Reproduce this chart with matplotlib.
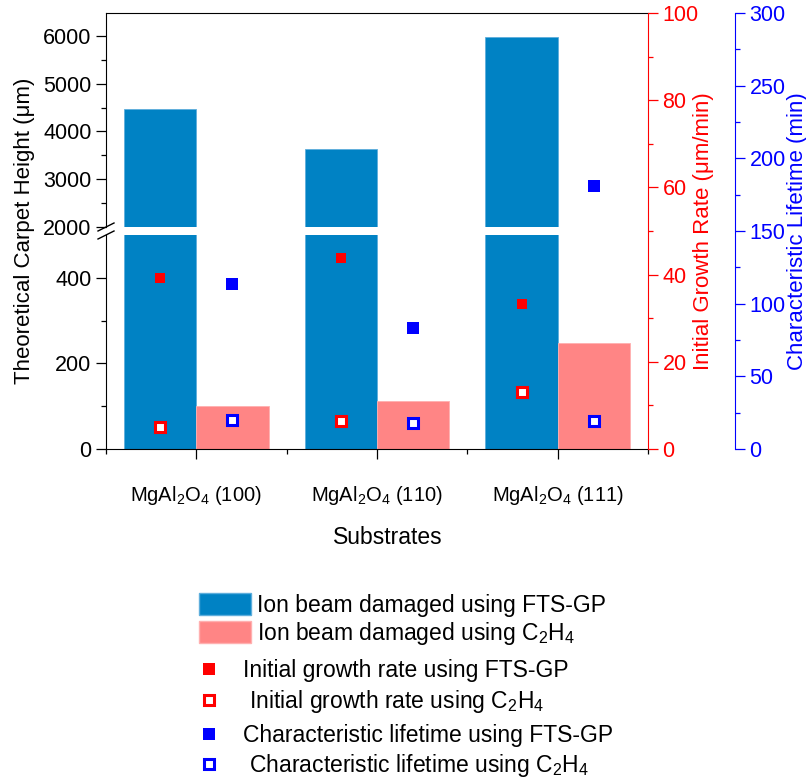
import numpy as np
import matplotlib
matplotlib.use("Agg")
import matplotlib.pyplot as plt
from matplotlib.patches import Patch
from matplotlib.lines import Line2D

plt.rcParams['font.family'] = ['Liberation Sans', 'DejaVu Sans']
plt.rcParams['mathtext.fontset'] = 'custom'
plt.rcParams['mathtext.rm'] = 'Liberation Sans'
plt.rcParams['mathtext.it'] = 'Liberation Sans'
plt.rcParams['mathtext.default'] = 'regular'

# data
substrates = ["MgAl$_2$O$_4$ (100)", "MgAl$_2$O$_4$ (110)", "MgAl$_2$O$_4$ (111)"]
carpet_fts = [4470, 3630, 5980]      # um
carpet_c2h4 = [100, 112, 247]        # um
rate_fts = [39.2, 43.8, 33.3]        # um/min
rate_c2h4 = [5.0, 6.4, 13.1]         # um/min
life_fts = [113.5, 83.3, 181.0]      # min
life_c2h4 = [20.0, 17.9, 19.3]       # min

c_bar1 = '#0082c4'
c_bar2 = '#ff8585'
c_red = '#ff0000'
c_blue = '#0000ff'
FS_TICK = 15.5
FS_LAB = 16
FS_LEG = 16.5

W_PX, H_PX = 806, 780
def fx(px):
    return px / W_PX
def fy(py):
    return 1 - py / H_PX

fig = plt.figure(figsize=(8.06, 7.80), dpi=100)

x0, x1 = 106, 648
ax_lo = fig.add_axes([fx(x0), fy(449), fx(x1 - x0), (449 - 235) / H_PX])
ax_hi = fig.add_axes([fx(x0), fy(227), fx(x1 - x0), (227 - 13) / H_PX])

x = np.arange(1, len(substrates) + 1)
bw = 0.4
for ax in (ax_lo, ax_hi):
    ax.bar(x - bw / 2, carpet_fts, bw, color=c_bar1, edgecolor='#5eaedc', linewidth=0.6)
    ax.bar(x + bw / 2, carpet_c2h4, bw, color=c_bar2, edgecolor='#ffb0b0', linewidth=0.6)
    ax.set_xlim(0.5, 3.5)
    ax.spines['right'].set_visible(False)
    ax.tick_params(axis='both', direction='out', labelsize=FS_TICK, length=7, width=0.9)
    ax.tick_params(which='minor', direction='out', length=3.5, width=0.9)

ax_lo.set_ylim(0, 500)
ax_lo.set_yticks([0, 200, 400])
ax_lo.set_yticks([100, 300], minor=True)
ax_lo.spines['top'].set_visible(False)
ax_lo.set_xticks(x)
ax_lo.set_xticklabels(substrates, fontsize=14.5)
ax_lo.set_xticks([0.5, 1.5, 2.5, 3.5], minor=True)
ax_lo.tick_params(axis='x', pad=18)
ax_lo.set_xlabel("Substrates", fontsize=FS_LAB + 0.5)
ax_lo.xaxis.set_label_coords(0.52, -0.36)

ax_hi.set_ylim(2000, 6480)
ax_hi.set_yticks([2000, 3000, 4000, 5000, 6000])
ax_hi.set_yticks(np.arange(2500, 6500, 1000), minor=True)
ax_hi.spines['bottom'].set_visible(False)
ax_hi.set_xticks([])
ax_hi.set_xticks([], minor=True)

# axis break marks
for yb in (227, 235):
    fig.add_artist(Line2D([fx(98), fx(114)], [fy(yb + 4), fy(yb - 4)],
                          color='black', lw=1.0, transform=fig.transFigure))

fig.text(fx(25), fy(231), "Theoretical Carpet Height (μm)", rotation=90,
         ha='center', va='center', fontsize=FS_LAB)

# growth rate axis (red) and lifetime axis (blue)
ax_r = fig.add_axes([fx(x0), fy(449), fx(x1 - x0), (449 - 13) / H_PX])
ax_r.patch.set_visible(False)
ax_r.set_xlim(0.5, 3.5)
ax_r.set_xticks([])
ax_b = ax_r.twinx()
ax_r.yaxis.tick_right()
for a in (ax_r, ax_b):
    for s in ('left', 'top', 'bottom'):
        a.spines[s].set_visible(False)

ax_r.spines['right'].set_color(c_red)
ax_r.set_ylim(0, 100)
ax_r.set_yticks(np.arange(0, 101, 20))
ax_r.set_yticks(np.arange(10, 100, 20), minor=True)
ax_r.tick_params(axis='y', which='both', colors=c_red, labelsize=FS_TICK, direction='out', width=0.9)
ax_r.tick_params(axis='y', which='major', length=7)
ax_r.tick_params(axis='y', which='minor', length=3.5)
ax_r.plot(x - bw / 2, rate_fts, 's', color=c_red, ms=6.5, mew=0, clip_on=False)
ax_r.plot(x - bw / 2, rate_c2h4, 's', mfc='white', mec=c_red, ms=6.8, mew=2.2, clip_on=False)

ax_b.spines['right'].set_position(('axes', (735 - x0) / (x1 - x0)))
ax_b.spines['right'].set_color(c_blue)
ax_b.set_ylim(0, 300)
ax_b.set_yticks(np.arange(0, 301, 50))
ax_b.set_yticks(np.arange(25, 300, 50), minor=True)
ax_b.tick_params(axis='y', which='both', colors=c_blue, labelsize=FS_TICK, direction='out', width=0.9)
ax_b.tick_params(axis='y', which='major', length=7)
ax_b.tick_params(axis='y', which='minor', length=3.5)
ax_b.plot(x + bw / 2, life_fts, 's', color=c_blue, ms=8.6, mew=0, clip_on=False)
ax_b.plot(x + bw / 2, life_c2h4, 's', mfc='white', mec=c_blue, ms=6.8, mew=2.2, clip_on=False)

fig.text(fx(703), fy(231), "Initial Growth Rate (μm/min)", rotation=90,
         ha='center', va='center', fontsize=FS_LAB, color=c_red)
fig.text(fx(797), fy(231), "Characteristic Lifetime (min)", rotation=90,
         ha='center', va='center', fontsize=FS_LAB, color=c_blue)

# legends
bar_handles = [Patch(facecolor=c_bar1, edgecolor='#5eaedc'),
               Patch(facecolor=c_bar2, edgecolor='#ffb0b0')]
bar_labels = ["Ion beam damaged using FTS-GP", "Ion beam damaged using C$_2$H$_4$"]
fig.legend(bar_handles, bar_labels, loc='upper left', bbox_to_anchor=(fx(199), fy(593)),
           frameon=False, fontsize=FS_LEG, handlelength=2.25, handleheight=1.1,
           handletextpad=0.3, borderpad=0, borderaxespad=0, labelspacing=0.12)

rate_handles = [Line2D([], [], ls='none', marker='s', color=c_red, ms=8.5, mew=0),
                Line2D([], [], ls='none', marker='s', mfc='white', mec=c_red, ms=7, mew=2.2)]
rate_labels = ["Initial growth rate using FTS-GP", " Initial growth rate using C$_2$H$_4$"]
fig.legend(rate_handles, rate_labels, loc='upper left', bbox_to_anchor=(fx(199), fy(659)),
           frameon=False, fontsize=FS_LEG, handlelength=0.9, handletextpad=1.0,
           borderpad=0, borderaxespad=0, labelspacing=0.25)

life_handles = [Line2D([], [], ls='none', marker='s', color=c_blue, ms=8.5, mew=0),
                Line2D([], [], ls='none', marker='s', mfc='white', mec=c_blue, ms=7, mew=2.2)]
life_labels = ["Characteristic lifetime using FTS-GP", " Characteristic lifetime using C$_2$H$_4$"]
fig.legend(life_handles, life_labels, loc='upper left', bbox_to_anchor=(fx(199), fy(724)),
           frameon=False, fontsize=FS_LEG, handlelength=0.9, handletextpad=1.0,
           borderpad=0, borderaxespad=0, labelspacing=0.22)

fig.savefig("out.png", dpi=100)
